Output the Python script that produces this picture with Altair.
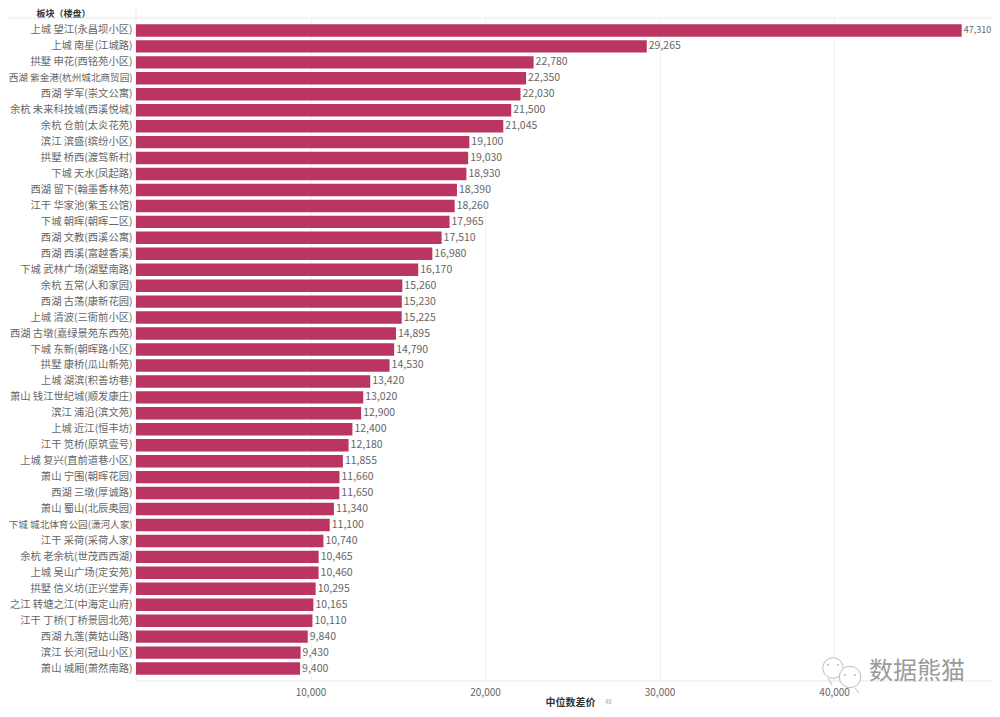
import altair as alt
import pandas as pd

labels = ["上城 望江(永昌坝小区)","上城 南星(江城路)","拱墅 申花(西铭苑小区)","西湖 紫金港(杭州城北商贸园)","西湖 学军(崇文公寓)","余杭 未来科技城(西溪悦城)","余杭 仓前(太炎花苑)","滨江 滨盛(缤纷小区)","拱墅 桥西(渡驾新村)","下城 天水(凤起路)","西湖 留下(翰墨香林苑)","江干 华家池(紫玉公馆)","下城 朝晖(朝晖二区)","西湖 文教(西溪公寓)","西湖 西溪(富越香溪)","下城 武林广场(湖墅南路)","余杭 五常(人和家园)","西湖 古荡(康新花园)","上城 清波(三衙前小区)","西湖 古墩(嘉绿景苑东西苑)","下城 东新(朝晖路小区)","拱墅 康桥(瓜山新苑)","上城 湖滨(积善坊巷)","萧山 钱江世纪城(顺发康庄)","滨江 浦沿(滨文苑)","上城 近江(恒丰坊)","江干 笕桥(原筑壹号)","上城 复兴(直前道巷小区)","萧山 宁围(朝晖花园)","西湖 三墩(厚诚路)","萧山 蜀山(北辰奥园)","下城 城北体育公园(潇河人家)","江干 采荷(采荷人家)","余杭 老余杭(世茂西西湖)","上城 吴山广场(定安苑)","拱墅 信义坊(正兴堂弄)","之江 转塘之江(中海定山府)","江干 丁桥(丁桥景园北苑)","西湖 九莲(黄姑山路)","滨江 长河(冠山小区)","萧山 城厢(萧然南路)"]
values = [47310,29265,22780,22350,22030,21500,21045,19100,19030,18930,18390,18260,17965,17510,16980,16170,15260,15230,15225,14895,14790,14530,13420,13020,12900,12400,12180,11855,11660,11650,11340,11100,10740,10465,10460,10295,10165,10110,9840,9430,9400]
ticks = [10000,20000,30000,40000]

FONT = "Noto Sans CJK SC"
df = pd.DataFrame({"label": labels, "value": values})

x = alt.X("value:Q", scale=alt.Scale(domain=[0, 49046], nice=False),
          axis=alt.Axis(values=ticks, format=",d", title="中位数差价", titleFontSize=10,
                        titleFontWeight="bold", titleColor="#333", titleX=434, titleY=21,
                        titleBaseline="middle", titleAlign="center",
                        labelFontSize=10, labelColor="#666", labelFont=FONT, titleFont=FONT,
                        grid=True, gridColor="#f2f2f2", domain=False, ticks=False, labelPadding=6))
y = alt.Y("label:N", sort=labels, scale=alt.Scale(paddingInner=0.22, paddingOuter=0.39),
          axis=alt.Axis(title="板块（楼盘）", titleAngle=0, titleFontSize=9, titleFontWeight="bold",
                        titleColor="#333", titleFont=FONT, titleAlign="center", titleBaseline="middle",
                        titleX=-73, titleY=-5, labelFont=FONT, labelColor="#666",
                        labelFontSize={"condition": {"test": "length(datum.label) >= 15", "value": 9.6}, "value": 10.3},
                        domain=False, ticks=False, labelPadding=4, labelLimit=200))

bars = alt.Chart(df).mark_bar(color="#bb3562").encode(x=x, y=y)
text = alt.Chart(df).mark_text(align="left", baseline="middle", dx=2, color="#666", font=FONT).encode(
    x="value:Q", y=alt.Y("label:N", sort=labels), text=alt.Text("value:Q", format=",d"),
    size=alt.condition("datum.value > 40000", alt.value(9), alt.value(10.5)))

base = alt.Chart(pd.DataFrame({"a": [0]}))
h_top = base.mark_rule(color="#e8e8e8").encode(x=alt.value(-128), x2=alt.value(856), y=alt.value(0))
h_bot = base.mark_rule(color="#e8e8e8").encode(x=alt.value(0), x2=alt.value(856), y=alt.value(663))
v_left = base.mark_rule(color="#e8e8e8").encode(x=alt.value(0), y=alt.value(-10), y2=alt.value(663))

def bubble(px, py, size):
    return base.mark_point(shape="circle", filled=True, fill="white", stroke="#bdbdbd", strokeWidth=1, opacity=1).encode(
        x=alt.value(px), y=alt.value(py), size=alt.value(size))

def eye(px, py):
    return base.mark_point(shape="circle", filled=True, color="#c4c4c4", opacity=1).encode(
        x=alt.value(px), y=alt.value(py), size=alt.value(5))

icon = [bubble(697, 650, 420), eye(692, 647), eye(702, 647),
        base.mark_rule(color="#bdbdbd").encode(x=alt.value(692), x2=alt.value(696), y=alt.value(660), y2=alt.value(667)),
        bubble(714, 659, 460), eye(709, 657), eye(719, 657),
        base.mark_rule(color="#bdbdbd").encode(x=alt.value(719), x2=alt.value(723), y=alt.value(670), y2=alt.value(675))]

wm = base.mark_text(align="left", baseline="middle", fontSize=24, color="#9a9a9a", font=FONT).encode(
    x=alt.value(733), y=alt.value(654), text=alt.value("数据熊猫"))
note = base.mark_text(align="left", baseline="middle", fontSize=6, color="#aaa", font=FONT).encode(
    x=alt.value(469), y=alt.value(684), text=alt.value("48"))

chart = alt.layer(h_top, h_bot, v_left, bars, text, *icon, wm, note).properties(
    width=856, height=663, padding={"left": 128, "top": 10, "right": 0, "bottom": 26},
    autosize=alt.AutoSizeParams(type="none")
).configure_view(stroke=None)

chart.save("out.html", embed_options={"renderer": "svg", "actions": False})
